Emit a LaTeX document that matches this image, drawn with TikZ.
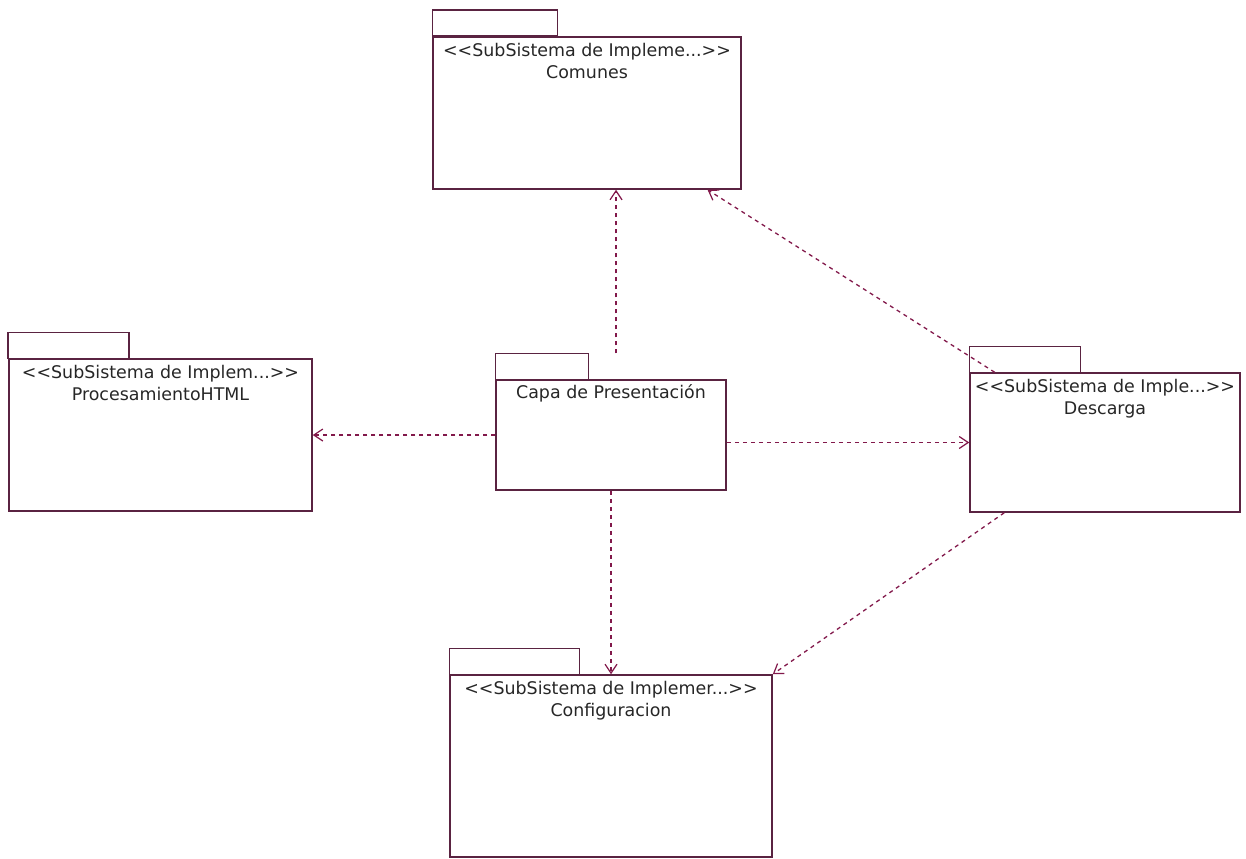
\documentclass[tikz,border=0pt]{standalone}
\usepackage{fontspec}
\setmainfont{DejaVu Sans}[Ligatures=TeXOff]
\usetikzlibrary{positioning,arrows.meta,calc}
\definecolor{pkgline}{RGB}{90,35,65}
\definecolor{depline}{RGB}{130,25,75}
\tikzset{
  pkg/.style={draw=pkgline, line width=1.5bp, inner sep=0pt},
  pkgtab/.style={draw=pkgline, line width=1.5bp},
  pkgtext/.style={align=center, font=\fontsize{17.5}{22}\selectfont, inner sep=0pt, text=black!85},
  dep/.style={draw=depline, line width=1.3bp, dash pattern=on 4bp off 4bp,
    -{Straight Barb[length=9bp,width=12bp,line width=1.2bp]}}
}

\begin{document}
\begin{tikzpicture}[x=1bp,y=-1bp]
  \useasboundingbox (0,0) rectangle (1246,859);

  % packages
  \node[pkg, minimum width=308bp, minimum height=152bp] (comunes) at (587,113) {};
  \draw[pkgtab] (comunes.north west) rectangle ++(125,-26);
  \node[pkgtext, below=7bp of comunes.north] (comunesT) {<<SubSistema de Impleme...>>\\Comunes};

  \node[pkg, minimum width=303bp, minimum height=152bp] (html) at (160.5,435) {};
  \draw[pkgtab] (html.north west) rectangle ++(121,-26);
  \node[pkgtext, below=7bp of html.north] (htmlT) {<<SubSistema de Implem...>>\\ProcesamientoHTML};

  \node[pkg, minimum width=230bp, minimum height=110bp] (capa) at (611,435) {};
  \draw[pkgtab] (capa.north west) rectangle ++(93,-26);
  \node[pkgtext, below=5bp of capa.north] (capaT) {Capa de Presentación};

  \node[pkg, minimum width=270bp, minimum height=139bp] (descarga) at (1105,442.5) {};
  \draw[pkgtab] (descarga.north west) rectangle ++(111,-26);
  \node[pkgtext, below=7bp of descarga.north] (descargaT) {<<SubSistema de Imple...>>\\Descarga};

  \node[pkg, minimum width=322bp, minimum height=182bp] (config) at (611,766) {};
  \draw[pkgtab] (config.north west) rectangle ++(130,-26);
  \node[pkgtext, below=7bp of config.north] (configT) {<<SubSistema de Implemer...>>\\Configuracion};

  % dependencies
  \coordinate (capaTop) at ($(capa.north)+(5,-26)$);
  \draw[dep] (capaTop) -- (capaTop |- comunes.south);
  \draw[dep] (capa.west) -- (html.east);
  \draw[dep] (capa.east |- descarga.west) -- (descarga.west);
  \draw[dep] (capa.south) -- (config.north);
  \draw[dep] (descarga) -- (comunes);
  \draw[dep] ($(descarga.south west)+(35,0)$) -- (config.north east);
\end{tikzpicture}
\end{document}
